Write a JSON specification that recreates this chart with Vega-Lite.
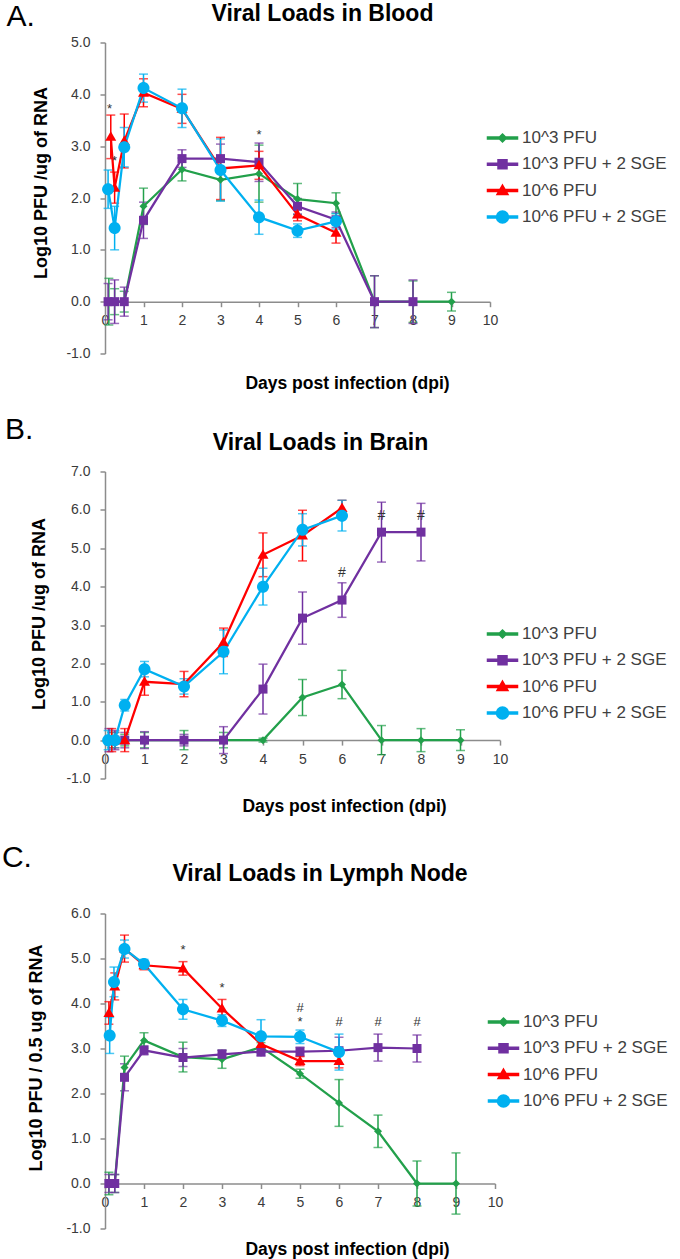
{
 "$schema": "https://vega.github.io/schema/vega-lite/v6.json",
 "background": "white",
 "padding": {"left": 1, "top": 1.5, "right": 0, "bottom": 0},
 "spacing": 22,
 "datasets": {
  "blood": [
   {"s":"10^3 PFU","d":0.1,"v":0,"e":0.45},{"s":"10^3 PFU","d":0.25,"v":0,"e":0.25},{"s":"10^3 PFU","d":0.5,"v":0,"e":0.2},{"s":"10^3 PFU","d":1,"v":1.84,"e":0.35},{"s":"10^3 PFU","d":2,"v":2.55,"e":0.22},{"s":"10^3 PFU","d":3,"v":2.35,"e":0.4},{"s":"10^3 PFU","d":4,"v":2.47,"e":0.55},{"s":"10^3 PFU","d":5,"v":1.98,"e":0.3},{"s":"10^3 PFU","d":6,"v":1.9,"e":0.2},{"s":"10^3 PFU","d":7,"v":0,"e":0.5},{"s":"10^3 PFU","d":8,"v":0,"e":0.4},{"s":"10^3 PFU","d":9,"v":0,"e":0.18},
   {"s":"10^3 PFU + 2 SGE","d":0.08,"v":0,"e":0.35},{"s":"10^3 PFU + 2 SGE","d":0.25,"v":0,"e":0.42},{"s":"10^3 PFU + 2 SGE","d":0.5,"v":0,"e":0.28},{"s":"10^3 PFU + 2 SGE","d":1,"v":1.57,"e":0.35},{"s":"10^3 PFU + 2 SGE","d":2,"v":2.76,"e":0.17},{"s":"10^3 PFU + 2 SGE","d":3,"v":2.76,"e":0.28},{"s":"10^3 PFU + 2 SGE","d":4,"v":2.69,"e":0.37},{"s":"10^3 PFU + 2 SGE","d":5,"v":1.84,"e":0.15},{"s":"10^3 PFU + 2 SGE","d":6,"v":1.58,"e":0.15},{"s":"10^3 PFU + 2 SGE","d":7,"v":0,"e":0.5},{"s":"10^3 PFU + 2 SGE","d":8,"v":0,"e":0.42},
   {"s":"10^6 PFU","d":0.15,"v":3.18,"e":0.42},{"s":"10^6 PFU","d":0.25,"v":2.2,"e":0.3},{"s":"10^6 PFU","d":0.5,"v":3.1,"e":0.52},{"s":"10^6 PFU","d":1,"v":4.03,"e":0.27},{"s":"10^6 PFU","d":2,"v":3.72,"e":0.28},{"s":"10^6 PFU","d":3,"v":2.57,"e":0.6},{"s":"10^6 PFU","d":4,"v":2.63,"e":0.27},{"s":"10^6 PFU","d":5,"v":1.68,"e":0.12},{"s":"10^6 PFU","d":6,"v":1.33,"e":0.2},
   {"s":"10^6 PFU + 2 SGE","d":0.08,"v":2.17,"e":0.37},{"s":"10^6 PFU + 2 SGE","d":0.25,"v":1.42,"e":0.42},{"s":"10^6 PFU + 2 SGE","d":0.5,"v":2.98,"e":0.38},{"s":"10^6 PFU + 2 SGE","d":1,"v":4.12,"e":0.27},{"s":"10^6 PFU + 2 SGE","d":2,"v":3.73,"e":0.37},{"s":"10^6 PFU + 2 SGE","d":3,"v":2.54,"e":0.6},{"s":"10^6 PFU + 2 SGE","d":4,"v":1.63,"e":0.33},{"s":"10^6 PFU + 2 SGE","d":5,"v":1.37,"e":0.13},{"s":"10^6 PFU + 2 SGE","d":6,"v":1.55,"e":0.15}
  ],
  "bloodNotes": [{"d":0.12,"v":3.72,"t":"*"},{"d":0.25,"v":2.72,"t":"*"},{"d":4,"v":3.22,"t":"*"}],
  "brain": [
   {"s":"10^3 PFU","d":0.17,"v":0,"e":0.2},{"s":"10^3 PFU","d":0.5,"v":0,"e":0.15},{"s":"10^3 PFU","d":1,"v":0,"e":0.2},{"s":"10^3 PFU","d":2,"v":0,"e":0.25},{"s":"10^3 PFU","d":3,"v":0,"e":0.2},{"s":"10^3 PFU","d":4,"v":0,"e":0.05},{"s":"10^3 PFU","d":5,"v":1.11,"e":0.47},{"s":"10^3 PFU","d":6,"v":1.45,"e":0.37},{"s":"10^3 PFU","d":7,"v":0,"e":0.38},{"s":"10^3 PFU","d":8,"v":0,"e":0.3},{"s":"10^3 PFU","d":9,"v":0,"e":0.27},
   {"s":"10^3 PFU + 2 SGE","d":0.1,"v":0,"e":0.3},{"s":"10^3 PFU + 2 SGE","d":0.25,"v":0,"e":0.25},{"s":"10^3 PFU + 2 SGE","d":0.5,"v":0,"e":0.2},{"s":"10^3 PFU + 2 SGE","d":1,"v":0,"e":0.22},{"s":"10^3 PFU + 2 SGE","d":2,"v":0,"e":0.15},{"s":"10^3 PFU + 2 SGE","d":3,"v":0,"e":0.35},{"s":"10^3 PFU + 2 SGE","d":4,"v":1.33,"e":0.65},{"s":"10^3 PFU + 2 SGE","d":5,"v":3.18,"e":0.68},{"s":"10^3 PFU + 2 SGE","d":6,"v":3.65,"e":0.45},{"s":"10^3 PFU + 2 SGE","d":7,"v":5.42,"e":0.78},{"s":"10^3 PFU + 2 SGE","d":8,"v":5.42,"e":0.75},
   {"s":"10^6 PFU","d":0.17,"v":0,"e":0.3},{"s":"10^6 PFU","d":0.25,"v":0,"e":0.2},{"s":"10^6 PFU","d":0.5,"v":0,"e":0.3},{"s":"10^6 PFU","d":1,"v":1.52,"e":0.35},{"s":"10^6 PFU","d":2,"v":1.46,"e":0.33},{"s":"10^6 PFU","d":3,"v":2.55,"e":0.37},{"s":"10^6 PFU","d":4,"v":4.83,"e":0.57},{"s":"10^6 PFU","d":5,"v":5.33,"e":0.66},{"s":"10^6 PFU","d":6,"v":6.05,"e":0.2},
   {"s":"10^6 PFU + 2 SGE","d":0.08,"v":0,"e":0.25},{"s":"10^6 PFU + 2 SGE","d":0.25,"v":0,"e":0.2},{"s":"10^6 PFU + 2 SGE","d":0.5,"v":0.91,"e":0.15},{"s":"10^6 PFU + 2 SGE","d":1,"v":1.85,"e":0.2},{"s":"10^6 PFU + 2 SGE","d":2,"v":1.4,"e":0.2},{"s":"10^6 PFU + 2 SGE","d":3,"v":2.3,"e":0.57},{"s":"10^6 PFU + 2 SGE","d":4,"v":4.0,"e":0.48},{"s":"10^6 PFU + 2 SGE","d":5,"v":5.48,"e":0.42},{"s":"10^6 PFU + 2 SGE","d":6,"v":5.85,"e":0.4}
  ],
  "brainNotes": [{"d":6,"v":4.35,"t":"#"},{"d":7,"v":5.85,"t":"#"},{"d":8,"v":5.85,"t":"#"}],
  "lymph": [
   {"s":"10^3 PFU","d":0.1,"v":0,"e":0.25},{"s":"10^3 PFU","d":0.25,"v":0,"e":0.2},{"s":"10^3 PFU","d":0.5,"v":2.58,"e":0.25},{"s":"10^3 PFU","d":1,"v":3.18,"e":0.17},{"s":"10^3 PFU","d":2,"v":2.81,"e":0.33},{"s":"10^3 PFU","d":3,"v":2.76,"e":0.2},{"s":"10^3 PFU","d":4,"v":3.03,"e":0.1},{"s":"10^3 PFU","d":5,"v":2.44,"e":0.1},{"s":"10^3 PFU","d":6,"v":1.79,"e":0.52},{"s":"10^3 PFU","d":7,"v":1.16,"e":0.36},{"s":"10^3 PFU","d":8,"v":0,"e":0.5},{"s":"10^3 PFU","d":9,"v":0,"e":0.68},
   {"s":"10^3 PFU + 2 SGE","d":0.1,"v":0,"e":0.2},{"s":"10^3 PFU + 2 SGE","d":0.25,"v":0,"e":0.2},{"s":"10^3 PFU + 2 SGE","d":0.5,"v":2.36,"e":0.3},{"s":"10^3 PFU + 2 SGE","d":1,"v":2.96,"e":0.1},{"s":"10^3 PFU + 2 SGE","d":2,"v":2.8,"e":0.2},{"s":"10^3 PFU + 2 SGE","d":3,"v":2.87,"e":0.1},{"s":"10^3 PFU + 2 SGE","d":4,"v":2.93,"e":0.1},{"s":"10^3 PFU + 2 SGE","d":5,"v":2.93,"e":0.1},{"s":"10^3 PFU + 2 SGE","d":6,"v":2.95,"e":0.3},{"s":"10^3 PFU + 2 SGE","d":7,"v":3.02,"e":0.3},{"s":"10^3 PFU + 2 SGE","d":8,"v":3.0,"e":0.3},
   {"s":"10^6 PFU","d":0.1,"v":3.79,"e":0.25},{"s":"10^6 PFU","d":0.25,"v":4.38,"e":0.3},{"s":"10^6 PFU","d":0.5,"v":5.22,"e":0.3},{"s":"10^6 PFU","d":1,"v":4.85,"e":0.1},{"s":"10^6 PFU","d":2,"v":4.78,"e":0.15},{"s":"10^6 PFU","d":3,"v":3.89,"e":0.2},{"s":"10^6 PFU","d":4,"v":3.1,"e":0.1},{"s":"10^6 PFU","d":5,"v":2.72,"e":0.1},{"s":"10^6 PFU","d":6,"v":2.72,"e":0.15},
   {"s":"10^6 PFU + 2 SGE","d":0.12,"v":3.29,"e":0.4},{"s":"10^6 PFU + 2 SGE","d":0.23,"v":4.48,"e":0.33},{"s":"10^6 PFU + 2 SGE","d":0.5,"v":5.21,"e":0.2},{"s":"10^6 PFU + 2 SGE","d":1,"v":4.88,"e":0.1},{"s":"10^6 PFU + 2 SGE","d":2,"v":3.87,"e":0.22},{"s":"10^6 PFU + 2 SGE","d":3,"v":3.62,"e":0.13},{"s":"10^6 PFU + 2 SGE","d":4,"v":3.27,"e":0.37},{"s":"10^6 PFU + 2 SGE","d":5,"v":3.26,"e":0.15},{"s":"10^6 PFU + 2 SGE","d":6,"v":2.92,"e":0.4}
  ],
  "lymphNotes": [{"d":2,"v":5.2,"t":"*"},{"d":3,"v":4.35,"t":"*"},{"d":5,"v":3.9,"t":"#"},{"d":5,"v":3.6,"t":"*"},{"d":6,"v":3.6,"t":"#"},{"d":7,"v":3.6,"t":"#"},{"d":8,"v":3.6,"t":"#"}]
 },
 "resolve": {"scale": {"color": "independent", "shape": "independent"}, "legend": {"color": "independent", "shape": "independent"}},
 "vconcat": [
  {
   "title": {"text": "A.", "anchor": "start", "frame": "bounds", "fontSize": 30, "fontWeight": "normal", "offset": -28.6, "dx": -26},
   "resolve": {"scale": {"color": "independent", "shape": "independent"}, "legend": {"color": "independent", "shape": "independent"}},
   "vconcat": [{
    "width": 385, "height": 311,
    "title": {"text": "Viral Loads in Blood", "frame": "group", "anchor": "middle", "fontSize": 23, "fontWeight": "bold", "offset": 9.2, "dx": 25},
    "data": {"name": "blood"},
    "encoding": {
     "x": {"field": "d", "type": "quantitative", "scale": {"domain": [0, 10], "nice": false, "zero": false},
      "axis": {"values": [0,1,2,3,4,5,6,7,8,9,10], "format": "d", "title": "Days post infection (dpi)", "titleFontSize": 17.5, "offset": -51.8, "labelPadding": 7, "titlePadding": 46.8, "titleX": 242, "labelFlush": false, "labelOverlap": false}},
     "y": {"field": "v", "type": "quantitative", "scale": {"domain": [-1, 5], "nice": false, "zero": false},
      "axis": {"values": [-1,0,1,2,3,4,5], "format": ".1f", "title": "Log10 PFU /ug of RNA", "titleFontSize": 18, "titlePadding": 15.4, "labelPadding": 10, "titleY": 140, "labelFlush": false, "labelOverlap": false}},
     "color": {"field": "s", "type": "nominal",
      "scale": {"domain": ["10^3 PFU","10^3 PFU + 2 SGE","10^6 PFU","10^6 PFU + 2 SGE"], "range": ["#22A04B","#7030A0","#FF0000","#00B0F0"]},
      "legend": {"orient": "none", "legendX": 389, "legendY": 87, "title": null, "padding": 0, "symbolSize": 100, "labelFontSize": 17, "labelFont": "Liberation Sans", "labelColor": "#404040", "labelOffset": 11, "rowPadding": 8.3, "labelLimit": 300, "symbolOpacity": 1}}
    },
    "layer": [
     {"mark": {"type": "errorbar", "ticks": true, "size": 9, "thickness": 1.5}, "encoding": {"yError": {"field": "e"}}},
     {"mark": {"type": "line", "strokeWidth": 2.25}},
     {"transform": [{"filter": "datum.s == '10^3 PFU'"}], "mark": {"type": "point", "filled": true, "opacity": 1, "size": 100, "shape": "M0,-0.8L0.8,0L0,0.8L-0.8,0Z"}},
     {"transform": [{"filter": "datum.s == '10^3 PFU + 2 SGE'"}], "mark": {"type": "point", "filled": true, "opacity": 1, "size": 100, "shape": "M-0.9,-0.9H0.9V0.9H-0.9Z"}},
     {"transform": [{"filter": "datum.s == '10^6 PFU'"}], "mark": {"type": "point", "filled": true, "opacity": 1, "size": 100, "shape": "M0,-1.1L1.1,0.8H-1.1Z"}},
     {"transform": [{"filter": "datum.s == '10^6 PFU + 2 SGE'"}], "mark": {"type": "point", "filled": true, "opacity": 1, "size": 100, "shape": "M-1.2,0A1.2,1.2,0,1,1,1.2,0A1.2,1.2,0,1,1,-1.2,0Z"}},
     {"transform": [{"filter": "false"}], "mark": {"type": "point", "filled": true, "opacity": 1, "size": 100},
      "encoding": {"shape": {"field": "s", "type": "nominal", "legend": null,
       "scale": {"domain": ["10^3 PFU","10^3 PFU + 2 SGE","10^6 PFU","10^6 PFU + 2 SGE"], "range": ["M-3,-0.2H3V0.2H-3ZM0,-0.8L0.8,0L0,0.8L-0.8,0Z","M-3,-0.2H3V0.2H-3ZM-0.9,-0.9H0.9V0.9H-0.9Z","M-3,-0.2H3V0.2H-3ZM0,-1.1L1.1,0.8H-1.1Z","M-3,-0.2H3V0.2H-3ZM-1.2,0A1.2,1.2,0,1,1,1.2,0A1.2,1.2,0,1,1,-1.2,0Z"]}}}},
     {"data": {"name": "bloodNotes"}, "mark": {"type": "text", "fontSize": 13, "baseline": "middle", "font": "Liberation Sans"},
      "encoding": {"text": {"field": "t"}, "color": {"value": "#333333"}}}
    ]
   }]
  },
  {
   "spacing": 27,
   "resolve": {"scale": {"color": "independent", "shape": "independent"}, "legend": {"color": "independent", "shape": "independent"}},
   "vconcat": [
    {
     "title": {"text": "B.", "anchor": "start", "frame": "bounds", "fontSize": 30, "fontWeight": "normal", "offset": -12.4, "dx": -26},
     "resolve": {"scale": {"color": "independent", "shape": "independent"}, "legend": {"color": "independent", "shape": "independent"}},
     "vconcat": [{
      "width": 395, "height": 307,
      "title": {"text": "Viral Loads in Brain", "frame": "group", "anchor": "middle", "fontSize": 23, "fontWeight": "bold", "offset": 9.1, "dx": 18},
      "data": {"name": "brain"},
      "encoding": {
       "x": {"field": "d", "type": "quantitative", "scale": {"domain": [0, 10], "nice": false, "zero": false},
        "axis": {"values": [0,1,2,3,4,5,6,7,8,9,10], "format": "d", "title": "Days post infection (dpi)", "titleFontSize": 17.5, "offset": -38.4, "labelPadding": 7, "titlePadding": 31.8, "titleX": 239, "labelFlush": false, "labelOverlap": false}},
       "y": {"field": "v", "type": "quantitative", "scale": {"domain": [-1, 7], "nice": false, "zero": false},
        "axis": {"values": [-1,0,1,2,3,4,5,6,7], "format": ".1f", "title": "Log10 PFU /ug of RNA", "titleFontSize": 18, "titlePadding": 17, "labelPadding": 10, "titleY": 142, "labelFlush": false, "labelOverlap": false}},
       "color": {"field": "s", "type": "nominal",
        "scale": {"domain": ["10^3 PFU","10^3 PFU + 2 SGE","10^6 PFU","10^6 PFU + 2 SGE"], "range": ["#22A04B","#7030A0","#FF0000","#00B0F0"]},
        "legend": {"orient": "none", "legendX": 389, "legendY": 154, "title": null, "padding": 0, "symbolSize": 100, "labelFontSize": 17, "labelFont": "Liberation Sans", "labelColor": "#404040", "labelOffset": 11, "rowPadding": 8.3, "labelLimit": 300, "symbolOpacity": 1}}
      },
      "layer": [
       {"mark": {"type": "errorbar", "ticks": true, "size": 9, "thickness": 1.5}, "encoding": {"yError": {"field": "e"}}},
       {"mark": {"type": "line", "strokeWidth": 2.25}},
       {"transform": [{"filter": "datum.s == '10^3 PFU'"}], "mark": {"type": "point", "filled": true, "opacity": 1, "size": 100, "shape": "M0,-0.8L0.8,0L0,0.8L-0.8,0Z"}},
       {"transform": [{"filter": "datum.s == '10^3 PFU + 2 SGE'"}], "mark": {"type": "point", "filled": true, "opacity": 1, "size": 100, "shape": "M-0.9,-0.9H0.9V0.9H-0.9Z"}},
       {"transform": [{"filter": "datum.s == '10^6 PFU'"}], "mark": {"type": "point", "filled": true, "opacity": 1, "size": 100, "shape": "M0,-1.1L1.1,0.8H-1.1Z"}},
       {"transform": [{"filter": "datum.s == '10^6 PFU + 2 SGE'"}], "mark": {"type": "point", "filled": true, "opacity": 1, "size": 100, "shape": "M-1.2,0A1.2,1.2,0,1,1,1.2,0A1.2,1.2,0,1,1,-1.2,0Z"}},
       {"transform": [{"filter": "false"}], "mark": {"type": "point", "filled": true, "opacity": 1, "size": 100},
        "encoding": {"shape": {"field": "s", "type": "nominal", "legend": null,
         "scale": {"domain": ["10^3 PFU","10^3 PFU + 2 SGE","10^6 PFU","10^6 PFU + 2 SGE"], "range": ["M-3,-0.2H3V0.2H-3ZM0,-0.8L0.8,0L0,0.8L-0.8,0Z","M-3,-0.2H3V0.2H-3ZM-0.9,-0.9H0.9V0.9H-0.9Z","M-3,-0.2H3V0.2H-3ZM0,-1.1L1.1,0.8H-1.1Z","M-3,-0.2H3V0.2H-3ZM-1.2,0A1.2,1.2,0,1,1,1.2,0A1.2,1.2,0,1,1,-1.2,0Z"]}}}},
       {"data": {"name": "brainNotes"}, "mark": {"type": "text", "fontSize": 14, "baseline": "middle", "font": "Liberation Sans"},
        "encoding": {"text": {"field": "t"}, "color": {"value": "#333333"}}}
      ]
     }]
    },
    {
     "title": {"text": "C.", "anchor": "start", "frame": "bounds", "fontSize": 30, "fontWeight": "normal", "offset": -9.9, "dx": -26},
     "resolve": {"scale": {"color": "independent", "shape": "independent"}, "legend": {"color": "independent", "shape": "independent"}},
     "vconcat": [{
      "width": 390, "height": 315,
      "title": {"text": "Viral Loads in Lymph Node", "frame": "group", "anchor": "middle", "fontSize": 23, "fontWeight": "bold", "offset": 20.9, "dx": 20},
      "data": {"name": "lymph"},
      "encoding": {
       "x": {"field": "d", "type": "quantitative", "scale": {"domain": [0, 10], "nice": false, "zero": false},
        "axis": {"values": [0,1,2,3,4,5,6,7,8,9,10], "format": "d", "title": "Days post infection (dpi)", "titleFontSize": 17.5, "offset": -45, "labelPadding": 7, "titlePadding": 30.7, "titleX": 242, "labelFlush": false, "labelOverlap": false}},
       "y": {"field": "v", "type": "quantitative", "scale": {"domain": [-1, 6], "nice": false, "zero": false},
        "axis": {"values": [-1,0,1,2,3,4,5,6], "format": ".1f", "title": "Log10 PFU / 0.5 ug of RNA", "titleFontSize": 18, "titlePadding": 20, "labelPadding": 10, "titleY": 144, "labelFlush": false, "labelOverlap": false}},
       "color": {"field": "s", "type": "nominal",
        "scale": {"domain": ["10^3 PFU","10^3 PFU + 2 SGE","10^6 PFU","10^6 PFU + 2 SGE"], "range": ["#22A04B","#7030A0","#FF0000","#00B0F0"]},
        "legend": {"orient": "none", "legendX": 390, "legendY": 100, "title": null, "padding": 0, "symbolSize": 100, "labelFontSize": 17, "labelFont": "Liberation Sans", "labelColor": "#404040", "labelOffset": 11, "rowPadding": 8.3, "labelLimit": 300, "symbolOpacity": 1}}
      },
      "layer": [
       {"mark": {"type": "errorbar", "ticks": true, "size": 9, "thickness": 1.5}, "encoding": {"yError": {"field": "e"}}},
       {"mark": {"type": "line", "strokeWidth": 2.25}},
       {"transform": [{"filter": "datum.s == '10^3 PFU'"}], "mark": {"type": "point", "filled": true, "opacity": 1, "size": 100, "shape": "M0,-0.8L0.8,0L0,0.8L-0.8,0Z"}},
       {"transform": [{"filter": "datum.s == '10^3 PFU + 2 SGE'"}], "mark": {"type": "point", "filled": true, "opacity": 1, "size": 100, "shape": "M-0.9,-0.9H0.9V0.9H-0.9Z"}},
       {"transform": [{"filter": "datum.s == '10^6 PFU'"}], "mark": {"type": "point", "filled": true, "opacity": 1, "size": 100, "shape": "M0,-1.1L1.1,0.8H-1.1Z"}},
       {"transform": [{"filter": "datum.s == '10^6 PFU + 2 SGE'"}], "mark": {"type": "point", "filled": true, "opacity": 1, "size": 100, "shape": "M-1.2,0A1.2,1.2,0,1,1,1.2,0A1.2,1.2,0,1,1,-1.2,0Z"}},
       {"transform": [{"filter": "false"}], "mark": {"type": "point", "filled": true, "opacity": 1, "size": 100},
        "encoding": {"shape": {"field": "s", "type": "nominal", "legend": null,
         "scale": {"domain": ["10^3 PFU","10^3 PFU + 2 SGE","10^6 PFU","10^6 PFU + 2 SGE"], "range": ["M-3,-0.2H3V0.2H-3ZM0,-0.8L0.8,0L0,0.8L-0.8,0Z","M-3,-0.2H3V0.2H-3ZM-0.9,-0.9H0.9V0.9H-0.9Z","M-3,-0.2H3V0.2H-3ZM0,-1.1L1.1,0.8H-1.1Z","M-3,-0.2H3V0.2H-3ZM-1.2,0A1.2,1.2,0,1,1,1.2,0A1.2,1.2,0,1,1,-1.2,0Z"]}}}},
       {"data": {"name": "lymphNotes"}, "mark": {"type": "text", "fontSize": 13, "baseline": "middle", "font": "Liberation Sans"},
        "encoding": {"text": {"field": "t"}, "color": {"value": "#333333"}}}
      ]
     }]
    }
   ]
  }
 ],
 "config": {
  "font": "Liberation Sans",
  "view": {"stroke": null},
  "locale": {"number": {"decimal": ".", "thousands": ",", "grouping": [3], "currency": ["$", ""], "minus": "-"}},
  "title": {"font": "Liberation Sans", "color": "#000000"},
  "axis": {"grid": false, "domainColor": "#8c8c8c", "tickColor": "#8c8c8c", "domainWidth": 1.5, "tickWidth": 1.5, "tickSize": 5, "labelFont": "Liberation Sans", "labelFontSize": 14, "labelColor": "#3a3a3a", "titleFont": "Liberation Sans", "titleFontWeight": "bold", "titleColor": "#000000"}
 }
}
